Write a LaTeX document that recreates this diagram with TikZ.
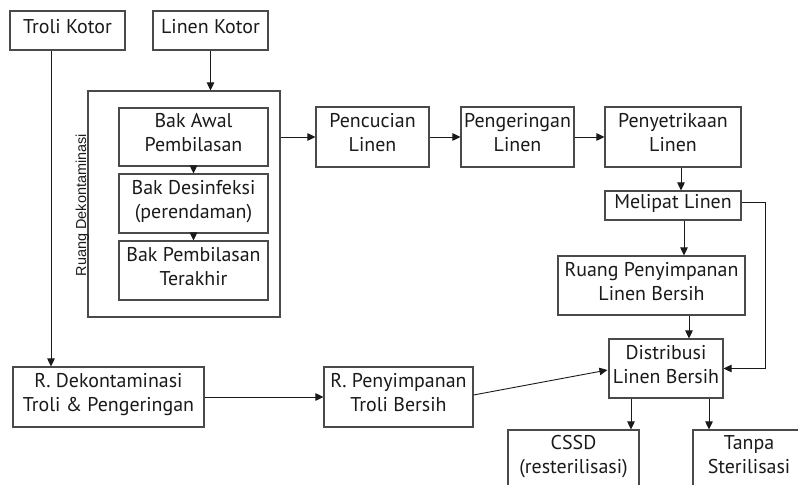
\documentclass[tikz,border=0pt]{standalone}
\usepackage{fontspec}
\setmainfont{PT Sans}
\newfontfamily\labelfont{Liberation Sans}
\usetikzlibrary{arrows.meta,calc}

\definecolor{edge}{HTML}{4A4A4A}
\definecolor{ink}{HTML}{1A1A1A}

\tikzset{
  box/.style={draw=edge, line width=1.1bp, fill=white, text=ink, align=center,
    inner sep=0pt, font=\fontsize{20}{24}\selectfont,
    % extra depth on the last line lifts the text a little inside its box
    execute at end node={\rule[-9bp]{0pt}{9bp}}},
  arr/.style={draw=ink, line width=0.9bp, -{Triangle[length=8bp,width=7.5bp]}},
}

\begin{document}
\begin{tikzpicture}[x=1bp, y=-1bp]
\useasboundingbox (0,0) rectangle (798,485);
\clip (0,0) rectangle (798,485);

% sources
\node[box, minimum width=115bp, minimum height=39bp] (troli) at (67.5,30.5) {Troli Kotor};
\node[box, minimum width=115bp, minimum height=39bp] (linen) at (210.5,30.5) {Linen Kotor};

% decontamination room with its three basins
\node[box, minimum width=192bp, minimum height=226bp] (ruang) at (184,204) {};
\node[box, minimum width=149bp, minimum height=58bp] (bak1) at (193.5,137) {Bak Awal\\Pembilasan};
\node[box, minimum width=149bp, minimum height=59bp] (bak2) at (193.5,203.5) {Bak Desinfeksi\\(perendaman)};
\node[box, minimum width=149bp, minimum height=59bp] (bak3) at (193.5,270.5) {Bak Pembilasan\\Terakhir};
\node[rotate=90, text=ink, inner sep=0pt, font=\labelfont\fontsize{14.5}{16}\selectfont] (ruanglbl) at (82.5,205) {Ruang Dekontaminasi};

% laundry line
\node[box, minimum width=113bp, minimum height=60bp] (cuci) at (372.5,137) {Pencucian\\Linen};
\node[box, minimum width=113bp, minimum height=60bp] (kering) at (517.5,137) {Pengeringan\\Linen};
\node[box, minimum width=136bp, minimum height=60bp] (setrika) at (673,137) {Penyetrikaan\\Linen};
\node[box, minimum width=136bp, minimum height=29bp] (lipat) at (673,205.5) {Melipat Linen};
\node[box, minimum width=187bp, minimum height=59bp] (simpan) at (651.5,285.5) {Ruang Penyimpanan\\Linen Bersih};
\node[box, minimum width=114bp, minimum height=59bp] (distri) at (666,368.5) {Distribusi\\Linen Bersih};

% trolley line
\node[box, minimum width=191bp, minimum height=60bp] (rdekon) at (108.5,397) {R. Dekontaminasi\\Troli \& Pengeringan};
\node[box, minimum width=149bp, minimum height=60bp] (rtroli) at (398.5,397) {R. Penyimpanan\\Troli Bersih};

% destinations
\node[box, minimum width=131bp, minimum height=58bp] (cssd) at (573.5,459) {CSSD\\(resterilisasi)};
\node[box, minimum width=112bp, minimum height=58bp] (tanpa) at (749,459) {Tanpa\\Sterilisasi};

% connectors
\coordinate (tdown) at ($(troli.south)+(-16.5,0)$);
\draw[arr] (tdown) -- (tdown |- rdekon.north);
\draw[arr] (linen.south) -- (linen.south |- ruang.north);
\draw[arr] (bak1.south) -- (bak2.north);
\draw[arr] (bak2.south) -- (bak3.north);
\draw[arr] (ruang.east |- cuci.west) -- (cuci.west);
\draw[arr] (cuci.east) -- (kering.west);
\draw[arr] (kering.east) -- (setrika.west);
\coordinate (sdown) at ($(setrika.south)+(8,0)$);
\draw[arr] (sdown) -- (sdown |- lipat.north);
\coordinate (ldown) at ($(lipat.south)+(11,0)$);
\draw[arr] (ldown) -- (ldown |- simpan.north);
\coordinate (pdown) at ($(simpan.south)+(37.5,0)$);
\draw[arr] (pdown) -- (pdown |- distri.north);
\coordinate (loopr) at ($(lipat.east)+(24,-3)$);
\draw[arr] ($(lipat.east)+(0,-3)$) -- (loopr) -- (loopr |- distri.east) -- (distri.east);
\draw[arr] (rdekon.east) -- (rtroli.west);
\draw[arr] ($(rtroli.east)+(0,-2)$) -- ($(distri.west)+(-1,1.5)$);
\coordinate (cdown) at ($(distri.south)+(-35,0)$);
\draw[arr] (cdown) -- (cdown |- cssd.north);
\coordinate (tdown2) at ($(distri.south)+(43,0)$);
\draw[arr] (tdown2) -- (tdown2 |- tanpa.north);
\end{tikzpicture}
\end{document}
